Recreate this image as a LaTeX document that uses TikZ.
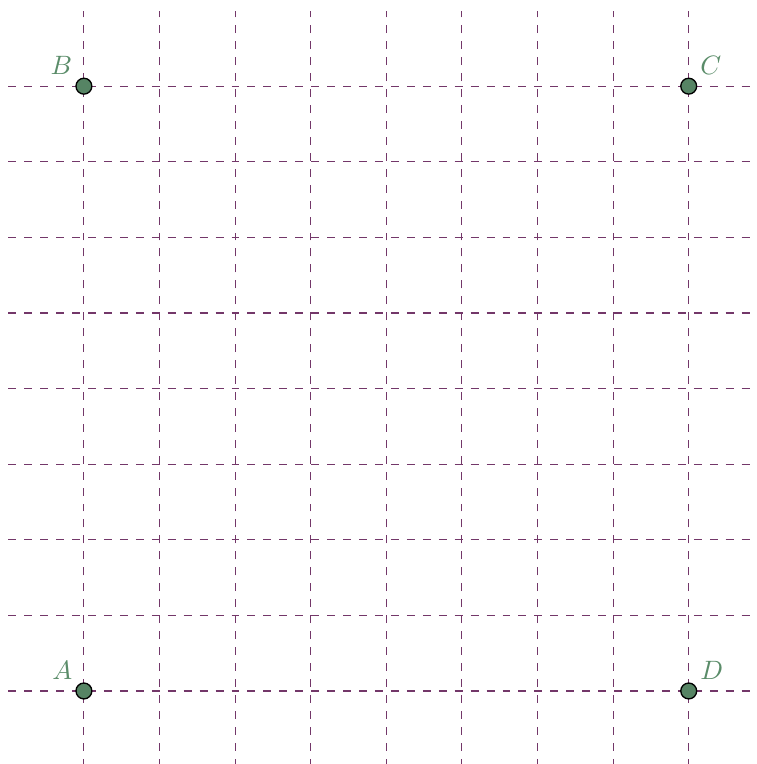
\documentclass[tikz,border=0pt]{standalone}
\definecolor{gridc}{RGB}{115,55,105}
\definecolor{dotc}{RGB}{86,132,100}
\definecolor{labc}{RGB}{90,140,105}
\begin{document}
\begin{tikzpicture}[
  gridline/.style={draw=gridc,dashed,line width=0.4pt},
  pt/.style={circle,draw=black,fill=dotc,line width=0.5pt,minimum size=0.21cm,inner sep=0pt},
  lab/.style={text=labc,font=\normalsize}
]
\useasboundingbox (-1.11,-0.966) rectangle (8.90,9.14);
\clip (-1.11,-0.966) rectangle (8.90,9.14);
\foreach \i in {0,...,8}{
  \draw[gridline] (-1,\i) -- (9,\i);
  \draw[gridline] (\i,-1) -- (\i,9);
}
\node[pt,label={[lab,label distance=-2pt]135:$A$}] (A) at (0,0) {};
\node[pt,label={[lab,label distance=-2pt]135:$B$}] (B) at (0,8) {};
\node[pt,label={[lab,label distance=-2pt]45:$C$}] (C) at (8,8) {};
\node[pt,label={[lab,label distance=-2pt]45:$D$}] (D) at (8,0) {};
\end{tikzpicture}
\end{document}
